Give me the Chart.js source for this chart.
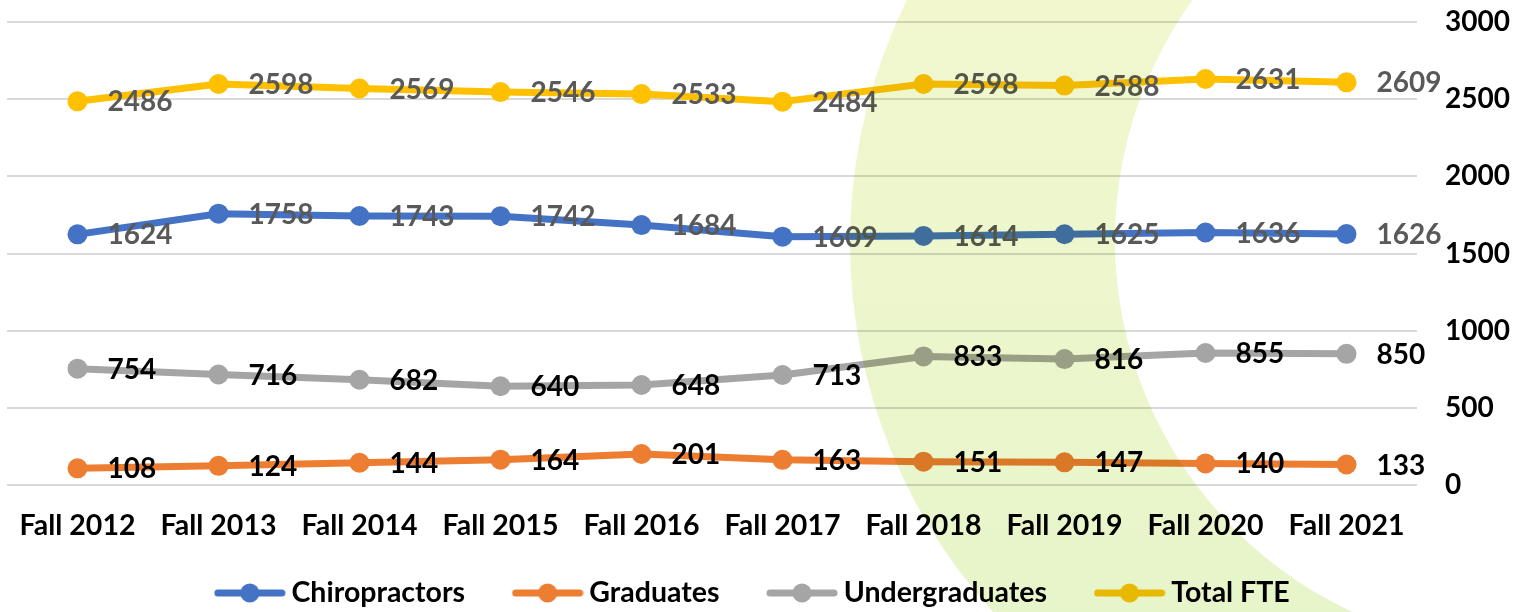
<!DOCTYPE html>
<html>
<head>
<meta charset="utf-8">
<script src="https://cdn.jsdelivr.net/npm/chart.js@4.4.1/dist/chart.umd.min.js"></script>
<style>
  html, body { margin: 0; padding: 0; background: #fff; }
  #wrap { width: 1527px; height: 612px; position: relative; }
</style>
</head>
<body>
<div id="wrap"><canvas id="c" width="1527" height="612"></canvas></div>
<script>
const categories = ['Fall 2012','Fall 2013','Fall 2014','Fall 2015','Fall 2016','Fall 2017','Fall 2018','Fall 2019','Fall 2020','Fall 2021'];
const chiropractors = [1624,1758,1743,1742,1684,1609,1614,1625,1636,1626];
const graduates = [108,124,144,164,201,163,151,147,140,133];
const undergraduates = [754,716,682,640,648,713,833,816,855,850];
const totalFTE = [2486,2598,2569,2546,2533,2484,2598,2588,2631,2609];
const yTicks = [0,500,1000,1500,2000,2500,3000];

const FONT = "Lato, 'Open Sans', sans-serif";
const FS = 28;
const LFS = 28.5;

function legendMarker(color) {
  const c = document.createElement('canvas');
  c.width = 72; c.height = 22;
  const g = c.getContext('2d');
  g.strokeStyle = color; g.lineWidth = 7; g.lineCap = 'round';
  g.beginPath(); g.moveTo(4, 11); g.lineTo(68, 11); g.stroke();
  g.fillStyle = color;
  g.beginPath(); g.arc(36, 11, 9.5, 0, Math.PI * 2); g.fill();
  return c;
}

const series = [
  { label: 'Chiropractors', data: chiropractors, color: '#4472C4', labelColor: '#595959' },
  { label: 'Graduates', data: graduates, color: '#ED7D31', labelColor: '#000000' },
  { label: 'Undergraduates', data: undergraduates, color: '#A5A5A5', labelColor: '#000000' },
  { label: 'Total FTE', data: totalFTE, color: '#FFC000', labelColor: '#595959' }
];

const valueLabels = {
  id: 'valueLabels',
  afterDatasetsDraw(chart) {
    const ctx = chart.ctx;
    ctx.save();
    ctx.font = 'bold ' + FS + 'px ' + FONT;
    ctx.textAlign = 'left';
    ctx.textBaseline = 'middle';
    chart.data.datasets.forEach((ds, i) => {
      const meta = chart.getDatasetMeta(i);
      ctx.fillStyle = ds.valueLabelColor;
      meta.data.forEach((pt, j) => {
        ctx.fillText(String(ds.data[j]), pt.x + 30, pt.y + 1);
      });
    });
    ctx.restore();
  }
};

const band = {
  id: 'band',
  afterLayout(chart) {
    const lg = chart.legend;
    lg.left -= 11;
    lg.right -= 11;
    lg.top = 593 - 55 - LFS / 2;
    lg.bottom = 612;
  },
  afterDraw(chart) {
    const ctx = chart.ctx;
    ctx.save();
    ctx.globalCompositeOperation = 'multiply';
    const grad = ctx.createLinearGradient(0, 0, 0, 612);
    grad.addColorStop(0, 'rgb(242,247,206)');
    grad.addColorStop(1, 'rgb(231,245,202)');
    ctx.fillStyle = grad;
    ctx.beginPath();
    ctx.arc(1397, 243, 547, 0, Math.PI * 2);
    ctx.moveTo(1525 + 410, 240);
    ctx.arc(1525, 240, 410, 0, Math.PI * 2);
    ctx.fill('evenodd');
    ctx.restore();
  }
};

new Chart(document.getElementById('c'), {
  type: 'line',
  data: {
    labels: categories,
    datasets: series.map(s => ({
      label: s.label,
      data: s.data,
      borderColor: s.color,
      backgroundColor: s.color,
      pointBackgroundColor: s.color,
      pointBorderColor: s.color,
      borderWidth: 7,
      pointRadius: 10,
      pointBorderWidth: 0,
      pointStyle: 'circle',
      legendImg: legendMarker(s.color),
      tension: 0,
      borderJoinStyle: 'round',
      borderCapStyle: 'round',
      valueLabelColor: s.labelColor,
      fill: false
    }))
  },
  options: {
    responsive: false,
    animation: false,
    events: [],
    layout: { autoPadding: false, padding: { left: 7, right: 0, top: 22, bottom: 0 } },
    scales: {
      x: {
        offset: true,
        grid: { display: false, drawTicks: false },
        border: { display: false },
        ticks: { color: '#000', font: { family: FONT, size: LFS, weight: 'bold' }, padding: 24, maxRotation: 0, autoSkip: false },
        afterFit(scale) { scale.height = 87; scale.paddingLeft = 0; scale.paddingRight = 0; }
      },
      y: {
        position: 'right',
        min: 0, max: 3000,
        afterBuildTicks(scale) { scale.ticks = yTicks.map(v => ({ value: v })); },
        grid: { color: '#D9D9D9', lineWidth: 2, drawTicks: false },
        border: { display: false },
        ticks: { color: '#000', font: { family: FONT, size: FS, weight: 'bold' }, padding: 28, callback: v => String(v) },
        afterFit(scale) { scale.width = 110; scale.paddingTop = 0; scale.paddingBottom = 0; }
      }
    },
    plugins: {
      legend: {
        position: 'bottom',
        maxHeight: 40,
        labels: {
          color: '#000',
          font: { family: FONT, size: LFS, weight: 'bold' },
          usePointStyle: true,
          pointStyleWidth: 55,
          padding: 55,
          generateLabels(chart) {
            return chart.data.datasets.map((ds, i) => ({
              text: ds.label,
              pointStyle: ds.legendImg,
              fillStyle: ds.borderColor,
              strokeStyle: ds.borderColor,
              lineWidth: 0,
              hidden: false,
              datasetIndex: i,
              fontColor: '#000'
            }));
          }
        }
      },
      tooltip: { enabled: false }
    }
  },
  plugins: [valueLabels, band]
});
</script>
</body>
</html>
